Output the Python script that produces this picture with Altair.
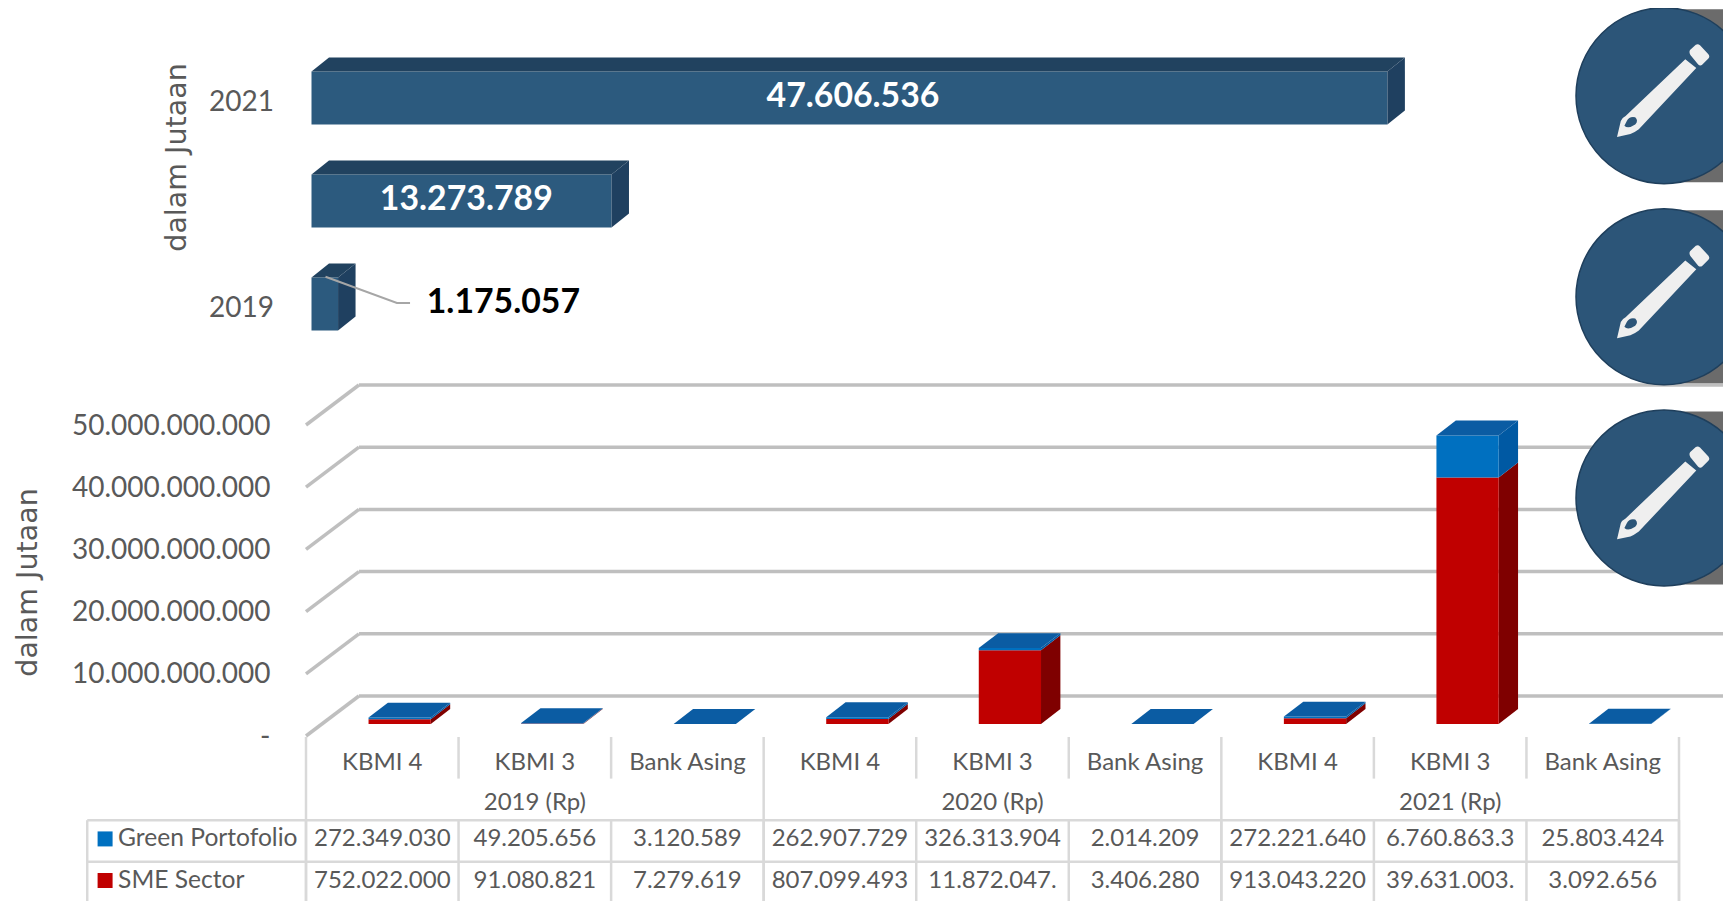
import altair as alt
import pandas as pd

# ---- data ----
years = [2019, 2020, 2021]
total_values = [1175057, 13273789, 47606536]
total_labels = ["1.175.057", "13.273.789", "47.606.536"]
total_label_pos = [5.1e6, 6.85e6, 23.96e6]
total_label_color = ["#000000", "#FFFFFF", "#FFFFFF"]
leader_x = [0.62e6, 3.78e6, 4.36e6]
leader_y = [2019.265, 2019.01, 2019.01]

categories = ["KBMI 4", "KBMI 3", "Bank Asing"] * 3
year_headers = ["2019 (Rp)", "2020 (Rp)", "2021 (Rp)"]
green = [272349030, 49205656, 3120589, 262907729, 326313904, 2014209, 272221640, 6760863300, 25803424]
sme = [752022000, 91080821, 7279619, 807099493, 11872047000, 3406280, 913043220, 39631003000, 3092656]
green_text = ["272.349.030", "49.205.656", "3.120.589", "262.907.729", "326.313.904", "2.014.209",
              "272.221.640", "6.760.863.3", "25.803.424"]
sme_text = ["752.022.000", "91.080.821", "7.279.619", "807.099.493", "11.872.047.", "3.406.280",
            "913.043.220", "39.631.003.", "3.092.656"]
series_names = ["Green Portofolio", "SME Sector"]
grid_values = [0, 1e10, 2e10, 3e10, 4e10, 5e10]

FONT = "Lato"
GREY = "#595959"
LINE = "#D9D9D9"
GRID = "#BFBFBF"
BAR = "#2C5A7E"
BAR_TOP = "#21425F"
BAR_SIDE = "#1F4060"
BLUE = "#0070C0"
BLUE_TOP = "#0B5CA3"
BLUE_SIDE = "#0059A3"
RED = "#C00000"
RED_SIDE = "#7F0000"
ICON = "#2C5578"
ICON_EDGE = "#1F3F5C"
PANEL = "#6B6B6B"

# ---- scales (ranges are given inside one shared canvas) ----
sx_top = alt.Scale(domain=[0, 50e6], range=[303.5, 1433.5], nice=False, zero=False)
sy_top = alt.Scale(domain=[2019, 2021], range=[296, 90], nice=False, zero=False)
sx_bot = alt.Scale(domain=[0, 9], range=[298, 1671], nice=False, zero=False)
sy_bot = alt.Scale(domain=[0, 5e10], range=[728, 417], nice=False, zero=False)
sy_tab = alt.Scale(domain=[0, 4], range=[729, 895.4], nice=False, zero=False)
sx_ico = alt.Scale(domain=[0, 1], range=[1656, 1723], nice=False, zero=False)
sy_ico = alt.Scale(domain=[0, 2], range=[87.7, 490], nice=False, zero=False)


def enc(xs, ys, xf="x", yf="y"):
    return dict(x=alt.X(f"{xf}:Q", scale=xs, axis=None), y=alt.Y(f"{yf}:Q", scale=ys, axis=None))


# ---- top chart: 3-D horizontal bars ----
T_DX, T_DY, T_H = 0.774e6, 0.136, 0.2573
top_front, top_top, top_side = [], [], []
for yr, v in zip(years, total_values):
    lo, hi = yr - T_H, yr + T_H
    top_front.append(dict(x=0, x2=v, y=lo, y2=hi, year=yr))
    for x, a, b in [(0, hi, hi), (T_DX, hi, hi + T_DY), (v, hi, hi + T_DY), (v + T_DX, hi + T_DY, hi + T_DY)]:
        top_top.append(dict(id=yr, x=x, y=a, y2=b))
    top_side += [dict(id=yr, x=v, y=lo, y2=hi), dict(id=yr, x=v + T_DX, y=lo + T_DY, y2=hi + T_DY)]

axis_top = alt.Axis(
    orient="left", offset=-303.5, values=years, format="d", domain=False, ticks=False, grid=False,
    labelPadding=38, labelFont=FONT, labelFontSize=28, labelColor=GREY, labelOffset=4.5, labelLimit=400,
    title="dalam Jutaan", titleFont="DejaVu Sans", titleFontSize=28.5, titleFontWeight="normal",
    titleColor=GREY, titleX=-134.9, titleY=149, titleAngle=-90, titleBaseline="middle", titleAlign="center",
    titleLimit=400,
)
l_top_front = alt.Chart(pd.DataFrame(top_front)).mark_rect(color=BAR).encode(
    x=alt.X("x:Q", scale=sx_top, axis=None), x2="x2:Q",
    y=alt.Y("y:Q", scale=sy_top, axis=axis_top), y2="y2:Q")
l_top_top = alt.Chart(pd.DataFrame(top_top)).mark_area(color=BAR_TOP, orient="vertical").encode(
    **enc(sx_top, sy_top), y2="y2:Q", detail="id:N")
l_top_side = alt.Chart(pd.DataFrame(top_side)).mark_area(color=BAR_SIDE, orient="vertical").encode(
    **enc(sx_top, sy_top), y2="y2:Q", detail="id:N")
l_leader = alt.Chart(pd.DataFrame({"x": leader_x, "y": leader_y})).mark_line(color="#A6A6A6", strokeWidth=2).encode(
    **enc(sx_top, sy_top))
top_labels = pd.DataFrame({
    "x": total_label_pos, "y": [y + 0.012 for y in years], "t": total_labels, "c": total_label_color,
    "a": ["left", "center", "center"]})
l_top_text = alt.Chart(top_labels).transform_filter("datum.a == 'center'").mark_text(
    font=FONT, fontSize=33.8, fontWeight="bold", align="center", baseline="middle").encode(
    **enc(sx_top, sy_top), text="t:N", color=alt.Color("c:N", scale=None))
l_top_text2 = alt.Chart(top_labels).transform_filter("datum.a == 'left'").mark_text(
    font=FONT, fontSize=33.8, fontWeight="bold", align="left", baseline="middle").encode(
    **enc(sx_top, sy_top), text="t:N", color=alt.Color("c:N", scale=None))

# ---- bottom chart: 3-D stacked columns ----
B_X0, B_X1, B_DX = 0.41, 0.818, 0.127
BASE = 1.93e9           # bars stand this far behind the front edge of the floor
B_DY = 2.41e9
WALL_X, WALL_Y = 0.347, 6.43e9

grid_back = [dict(x=WALL_X, x2=9.6, y=g + WALL_Y) for g in grid_values]
grid_diag = []
for g in grid_values:
    grid_diag += [dict(id=g, x=0, y=g), dict(id=g, x=WALL_X, y=g + WALL_Y)]

fronts_r, fronts_b, tops, sides_r, sides_b = [], [], [], [], []
for i, (g, s) in enumerate(zip(green, sme)):
    a, b = i + B_X0, i + B_X1
    y0, y1, y2 = BASE, BASE + s, BASE + s + g
    fronts_r.append(dict(x=a, x2=b, y=y0, y2=y1))
    fronts_b.append(dict(x=a, x2=b, y=y1, y2=y2))
    for x, l, u in [(a, y2, y2), (a + B_DX, y2, y2 + B_DY), (b, y2, y2 + B_DY), (b + B_DX, y2 + B_DY, y2 + B_DY)]:
        tops.append(dict(id=i, x=x, y=l, y2=u))
    sides_r += [dict(id=i, x=b, y=y0, y2=y1), dict(id=i, x=b + B_DX, y=y0 + B_DY, y2=y1 + B_DY)]
    sides_b += [dict(id=i, x=b, y=y1, y2=y2), dict(id=i, x=b + B_DX, y=y1 + B_DY, y2=y2 + B_DY)]

axis_bot = alt.Axis(
    orient="left", offset=-298, values=grid_values, domain=False, ticks=False, grid=False,
    labelExpr="datum.value == 0 ? '-' : replace(format(datum.value, ','), /,/g, '.')",
    labelPadding=36, labelFont=FONT, labelFontSize=28, labelColor=GREY, labelLimit=400, labelOffset=1,
    title="dalam Jutaan", titleFont="DejaVu Sans", titleFontSize=28.5, titleFontWeight="normal",
    titleColor=GREY, titleX=-278.4, titleY=574, titleAngle=-90, titleBaseline="middle", titleAlign="center",
    titleLimit=400,
)
l_grid_back = alt.Chart(pd.DataFrame(grid_back)).mark_rule(color=GRID, strokeWidth=3.5, clip=True).encode(
    x=alt.X("x:Q", scale=sx_bot, axis=None), x2="x2:Q", y=alt.Y("y:Q", scale=sy_bot, axis=axis_bot))
l_grid_diag = alt.Chart(pd.DataFrame(grid_diag)).mark_line(color=GRID, strokeWidth=3.5).encode(
    **enc(sx_bot, sy_bot), detail="id:N")


def rects(rows, color):
    return alt.Chart(pd.DataFrame(rows)).mark_rect(color=color).encode(
        x=alt.X("x:Q", scale=sx_bot, axis=None), x2="x2:Q", y=alt.Y("y:Q", scale=sy_bot, axis=None), y2="y2:Q")


def faces(rows, color):
    return alt.Chart(pd.DataFrame(rows)).mark_area(color=color, orient="vertical").encode(
        **enc(sx_bot, sy_bot), y2="y2:Q", detail="id:N")


# ---- data table under the columns ----
cols = list(range(10))
tab_major = [dict(x=c, y=0, y2=4.2) for c in [0, 3, 6, 9]]
tab_minor = [dict(x=c, y=0, y2=1) for c in [1, 2, 4, 5, 7, 8]]
tab_cells = [dict(x=c, y=2, y2=4.2) for c in cols] + [dict(x=-1.434, y=2, y2=4.2)]
tab_rows = [dict(x=-1.434, x2=9, y=r) for r in [2, 3, 4]]

l_tab_v = alt.Chart(pd.DataFrame(tab_major + tab_minor + tab_cells)).mark_rule(color=LINE, strokeWidth=2.5, clip=True).encode(
    x=alt.X("x:Q", scale=sx_bot, axis=None), y=alt.Y("y:Q", scale=sy_tab, axis=None), y2="y2:Q")
l_tab_h = alt.Chart(pd.DataFrame(tab_rows)).mark_rule(color=LINE, strokeWidth=2.5, clip=True).encode(
    x=alt.X("x:Q", scale=sx_bot, axis=None), x2="x2:Q", y=alt.Y("y:Q", scale=sy_tab, axis=None))

cells = []
for i in range(9):
    cells.append(dict(x=i + 0.5, y=0.62, t=categories[i]))
    cells.append(dict(x=i + 0.5, y=2.45, t=green_text[i]))
    cells.append(dict(x=i + 0.5, y=3.45, t=sme_text[i]))
for j, h in enumerate(year_headers):
    cells.append(dict(x=3 * j + 1.5, y=1.58, t=h))
l_cells = alt.Chart(pd.DataFrame(cells)).mark_text(font=FONT, color=GREY, fontSize=24, align="center", baseline="middle").encode(
    **enc(sx_bot, sy_tab), text="t:N")
l_keys = alt.Chart(pd.DataFrame({"x": [-1.317, -1.317], "y": [2.45, 3.45], "c": [BLUE, RED]})).mark_square(size=225, opacity=1).encode(
    **enc(sx_bot, sy_tab), color=alt.Color("c:N", scale=None))
l_names = alt.Chart(pd.DataFrame({"x": [-1.232, -1.232], "y": [2.45, 3.45], "t": series_names})).mark_text(
    font=FONT, color=GREY, fontSize=24.6, align="left", baseline="middle").encode(**enc(sx_bot, sy_tab), text="t:N")

# ---- pencil badges on the right ----
icon_rows = [0, 1, 2]
PENCIL = ("M-0.783,0.688 L-0.72,0.42 Q-0.7,0.37 -0.64,0.34 L0.355,-0.607 L0.538,-0.46 L-0.42,0.56 Q-0.5,0.62 -0.56,0.64 Z "
          "M-0.66,0.5 Q-0.6,0.56 -0.48,0.48 Q-0.42,0.42 -0.48,0.36 Q-0.58,0.34 -0.62,0.42 Z "
          "M0.438,-0.765 L0.53,-0.85 Q0.567,-0.87 0.6,-0.84 L0.74,-0.69 Q0.77,-0.65 0.74,-0.62 L0.64,-0.52 Q0.605,-0.49 0.57,-0.52 L0.44,-0.68 Q0.41,-0.73 0.438,-0.765 Z")
l_panels = alt.Chart(pd.DataFrame([dict(x=0, x2=1.2, y=i - 0.43, y2=i + 0.43) for i in icon_rows])).mark_rect(
    color=PANEL, clip=True).encode(
    x=alt.X("x:Q", scale=sx_ico, axis=None), x2="x2:Q", y=alt.Y("y:Q", scale=sy_ico, axis=None), y2="y2:Q")
l_disc = alt.Chart(pd.DataFrame({"x": [0, 0, 0], "y": icon_rows})).mark_circle(
    size=30976, color=ICON, opacity=1, stroke=ICON_EDGE, strokeWidth=1.5, clip=True).encode(**enc(sx_ico, sy_ico))
l_pencil = alt.Chart(pd.DataFrame({"x": [0, 0, 0], "y": icon_rows})).mark_point(
    shape=PENCIL, size=14400, filled=True, color="#EFEFEF", opacity=1, clip=True).encode(**enc(sx_ico, sy_ico))

chart = alt.layer(
    l_grid_back, l_grid_diag,
    l_tab_v, l_tab_h, l_cells, l_keys, l_names,
    faces(sides_r, RED_SIDE), faces(sides_b, BLUE_SIDE), rects(fronts_r, RED), rects(fronts_b, BLUE), faces(tops, BLUE_TOP),
    l_top_front, l_top_top, l_top_side, l_leader, l_top_text, l_top_text2,
    l_panels, l_disc, l_pencil,
).resolve_scale(x="independent", y="independent").properties(
    width=1715, height=893, padding=0, autosize=alt.AutoSizeParams(type="none"), background="#FFFFFF",
).configure_view(stroke=None)

chart.save("out.html", embed_options={"renderer": "svg", "actions": False})
